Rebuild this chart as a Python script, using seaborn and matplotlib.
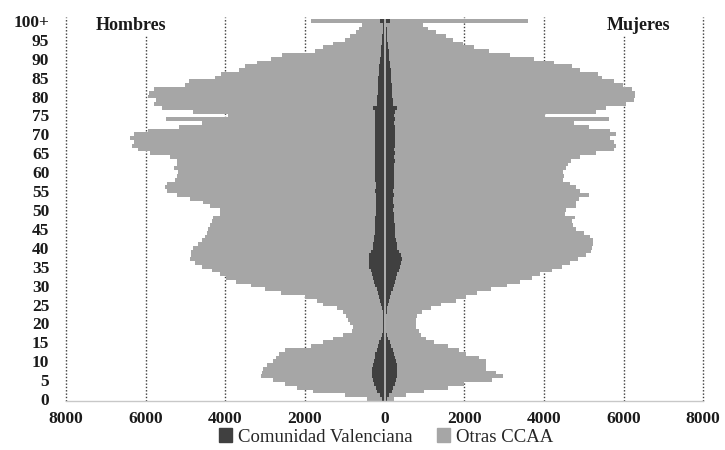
import matplotlib
matplotlib.use('Agg')
import matplotlib.pyplot as plt
import seaborn as sns
from matplotlib.patches import Patch
from matplotlib.ticker import FuncFormatter

# Pirámide de población por edad simple (0 a 100+), hombres a la izquierda
edades = [str(i) for i in range(100)] + ['100+']

# Comunidad Valenciana, hombres (edad 0 ... 100+)
hombres_cv = [
    60, 120, 180, 220, 260, 290, 310, 320, 310, 290,
    270, 250, 230, 200, 170, 130, 90, 60, 40, 30,
    30, 30, 40, 50, 70, 90, 110, 140, 170, 200,
    230, 260, 290, 320, 350, 380, 400, 400, 380, 340,
    300, 280, 270, 260, 250, 240, 240, 230, 230, 220,
    220, 210, 220, 210, 220, 230, 220, 220, 230, 230,
    240, 230, 230, 240, 230, 240, 240, 250, 240, 250,
    240, 250, 240, 230, 250, 230, 250, 300, 200, 190,
    180, 175, 170, 165, 160, 155, 150, 140, 130, 120,
    110, 100, 90, 80, 70, 60, 55, 50, 45, 40,
    120]

# Otras CCAA, hombres
hombres_otras = [
    390, 880, 1610, 1980, 2240, 2510, 2790, 2760, 2740, 2670,
    2530, 2470, 2420, 2300, 1680, 1420, 1210, 990, 780, 770,
    840, 890, 940, 1000, 1130, 1460, 1590, 1860, 2430, 2800,
    3120, 3460, 3680, 3810, 3990, 4210, 4360, 4490, 4490, 4510,
    4500, 4400, 4320, 4250, 4200, 4190, 4150, 4110, 4070, 3920,
    3910, 4180, 4330, 4680, 5000, 5240, 5290, 5250, 5030, 4990,
    4940, 5070, 4990, 4980, 5170, 5660, 5960, 6100, 6060, 6150,
    6060, 5680, 4910, 4360, 5250, 3690, 4560, 5300, 5600, 5540,
    5750, 5745, 5630, 4845, 4740, 4095, 3950, 3510, 3370, 3080,
    2740, 2480, 1660, 1460, 1230, 930, 805, 670, 605, 530,
    1730]

# Comunidad Valenciana, mujeres
mujeres_cv = [
    60, 120, 180, 220, 260, 290, 310, 320, 310, 300,
    280, 260, 230, 200, 170, 130, 90, 60, 40, 30,
    30, 30, 40, 50, 70, 90, 110, 140, 170, 200,
    230, 260, 290, 320, 350, 380, 410, 430, 420, 360,
    320, 300, 280, 270, 260, 250, 250, 240, 240, 230,
    220, 230, 220, 220, 230, 220, 230, 240, 230, 240,
    240, 230, 240, 250, 240, 250, 240, 250, 250, 260,
    250, 260, 250, 240, 260, 240, 260, 320, 210, 200,
    190, 185, 180, 175, 170, 165, 160, 150, 140, 130,
    120, 110, 100, 90, 80, 70, 60, 55, 50, 45,
    130]

# Otras CCAA, mujeres
mujeres_otras = [
    180, 410, 810, 1360, 1740, 2410, 2650, 2480, 2240, 2250,
    2270, 2120, 1810, 1670, 1410, 1110, 940, 860, 820, 770,
    750, 770, 780, 900, 1090, 1320, 1680, 1900, 2160, 2470,
    2850, 3140, 3410, 3580, 3850, 4070, 4240, 4420, 4630, 4810,
    4880, 4940, 4950, 4880, 4740, 4550, 4490, 4460, 4550, 4300,
    4330, 4570, 4580, 4660, 4900, 4680, 4570, 4410, 4260, 4260,
    4240, 4320, 4360, 4430, 4660, 5050, 5510, 5550, 5500, 5410,
    5550, 5390, 4870, 4510, 5370, 3790, 5040, 5230, 5840, 6050,
    6090, 6095, 6020, 5805, 5580, 5285, 5190, 4750, 4560, 4120,
    3630, 3040, 2520, 2160, 1900, 1650, 1480, 1235, 1050, 915,
    3470]

gris = '#A6A6A6'
oscuro = '#404040'

sns.set_theme(style='white')
plt.rcParams['font.family'] = ['Liberation Serif', 'DejaVu Serif']

fig = plt.figure(figsize=(7.25, 4.5), dpi=100)
ax = fig.add_axes([0.091, 0.109, 0.879, 0.853])

orden = edades[::-1]

# barras apiladas: primero el total (gris) y encima la parte valenciana
hombres_total = [a + b for a, b in zip(hombres_cv, hombres_otras)]
mujeres_total = [a + b for a, b in zip(mujeres_cv, mujeres_otras)]

opts = dict(orient='h', order=orden, width=1.0, saturation=1,
            errorbar=None, ax=ax, linewidth=0, antialiased=False)
sns.barplot(x=[-v for v in hombres_total], y=edades, color=gris, **opts)
sns.barplot(x=mujeres_total, y=edades, color=gris, **opts)
sns.barplot(x=[-v for v in hombres_cv], y=edades, color=oscuro, **opts)
sns.barplot(x=mujeres_cv, y=edades, color=oscuro, **opts)

# rejilla punteada vertical
for v in [-8000, -6000, -4000, -2000, 2000, 4000, 6000, 8000]:
    ax.axvline(v, color='#3a3a3a', ls=(0, (1, 1.4)), lw=1.0, zorder=0.5, clip_on=False)

# eje vertical en 0
ax.vlines(0, -0.5, 100.5, color='#C4C4C4', lw=1.2, zorder=5)

ax.set_xlim(-8000, 8000)
ax.set_ylim(100.5, -1.0)

ax.set_xticks(range(-8000, 8001, 2000))
ax.xaxis.set_major_formatter(FuncFormatter(lambda v, p: f'{abs(int(v))}'))
pos_y = [100 - a for a in range(0, 100, 5)] + [0]
lab_y = [str(a) for a in range(0, 100, 5)] + ['100+']
ax.set_yticks(pos_y)
ax.set_yticklabels(lab_y)
ax.set_xlabel('')
ax.set_ylabel('')

ax.tick_params(axis='x', length=0, pad=7, labelsize=12.5, colors='#1a1a1a')
ax.tick_params(axis='y', length=0, pad=12, labelsize=12.5, colors='#1a1a1a')
plt.setp(ax.get_xticklabels() + ax.get_yticklabels(), fontweight='bold')

for s in ['top', 'left', 'right']:
    ax.spines[s].set_visible(False)
ax.spines['bottom'].set_color('#C8C8C8')
ax.spines['bottom'].set_linewidth(1.0)

caja = dict(facecolor='white', edgecolor='none', pad=1.5)
ax.text(-6370, 1.3, 'Hombres', ha='center', va='center', fontsize=13,
        fontweight='bold', color='#1a1a1a', bbox=caja, zorder=6)
ax.text(6370, 1.3, 'Mujeres', ha='center', va='center', fontsize=13,
        fontweight='bold', color='#1a1a1a', bbox=caja, zorder=6)

handles = [Patch(facecolor=oscuro, edgecolor=oscuro), Patch(facecolor=gris, edgecolor=gris)]
fig.legend(handles, ['Comunidad Valenciana', 'Otras CCAA'], loc='center',
           bbox_to_anchor=(386 / 725, 1 - 437 / 450), ncol=2, frameon=False,
           handlelength=0.7, handleheight=0.7, handletextpad=0.3,
           columnspacing=1.3, prop={'size': 13.5})

fig.savefig('out.png', dpi=100)
